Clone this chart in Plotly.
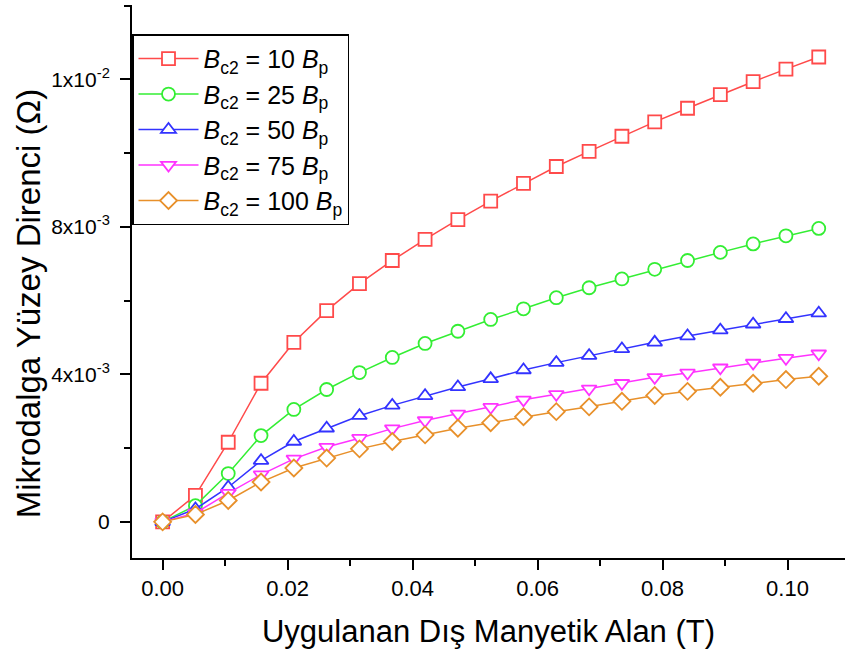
import plotly.graph_objects as go

x_field = [0.0, 0.00525, 0.0105, 0.01575, 0.021, 0.02625, 0.0315, 0.03675, 0.042, 0.04725,
           0.0525, 0.05775, 0.063, 0.06825, 0.0735, 0.07875, 0.084, 0.08925, 0.0945, 0.09975, 0.105]

r_10 = [0.0, 0.72e-3, 2.16e-3, 3.76e-3, 4.87e-3, 5.73e-3, 6.46e-3, 7.09e-3, 7.66e-3, 8.20e-3,
        8.70e-3, 9.18e-3, 9.64e-3, 10.05e-3, 10.46e-3, 10.85e-3, 11.22e-3, 11.59e-3, 11.94e-3, 12.28e-3, 12.61e-3]
r_25 = [0.0, 0.44e-3, 1.31e-3, 2.34e-3, 3.05e-3, 3.59e-3, 4.05e-3, 4.46e-3, 4.84e-3, 5.17e-3,
        5.49e-3, 5.78e-3, 6.08e-3, 6.35e-3, 6.59e-3, 6.85e-3, 7.09e-3, 7.31e-3, 7.54e-3, 7.76e-3, 7.96e-3]
r_50 = [0.0, 0.35e-3, 0.94e-3, 1.66e-3, 2.18e-3, 2.54e-3, 2.88e-3, 3.16e-3, 3.42e-3, 3.66e-3,
        3.88e-3, 4.12e-3, 4.32e-3, 4.51e-3, 4.69e-3, 4.87e-3, 5.04e-3, 5.20e-3, 5.36e-3, 5.51e-3, 5.66e-3]
r_75 = [0.0, 0.24e-3, 0.78e-3, 1.28e-3, 1.71e-3, 2.03e-3, 2.27e-3, 2.53e-3, 2.75e-3, 2.93e-3,
        3.11e-3, 3.31e-3, 3.46e-3, 3.61e-3, 3.76e-3, 3.92e-3, 4.04e-3, 4.18e-3, 4.31e-3, 4.44e-3, 4.56e-3]
r_100 = [0.0, 0.20e-3, 0.58e-3, 1.08e-3, 1.46e-3, 1.73e-3, 1.98e-3, 2.18e-3, 2.36e-3, 2.54e-3,
         2.69e-3, 2.85e-3, 2.99e-3, 3.12e-3, 3.27e-3, 3.43e-3, 3.54e-3, 3.65e-3, 3.76e-3, 3.86e-3, 3.95e-3]

series_names = [
    "<i>B</i><sub>c2</sub> = 10 <i>B</i><sub>p</sub>",
    "<i>B</i><sub>c2</sub> = 25 <i>B</i><sub>p</sub>",
    "<i>B</i><sub>c2</sub> = 50 <i>B</i><sub>p</sub>",
    "<i>B</i><sub>c2</sub> = 75 <i>B</i><sub>p</sub>",
    "<i>B</i><sub>c2</sub> = 100 <i>B</i><sub>p</sub>",
]
series_values = [r_10, r_25, r_50, r_75, r_100]
colors = ["#FF4A4A", "#33EE33", "#3333FF", "#FF33FF", "#E8902A"]
symbols = ["square", "circle", "triangle-up", "triangle-down", "diamond"]

y_tickvals = [0.0, 0.004, 0.008, 0.012]
y_ticktext = ["0", "4x10<sup>-3</sup>", "8x10<sup>-3</sup>", "1x10<sup>-2</sup>"]
x_tickvals = [0.0, 0.02, 0.04, 0.06, 0.08, 0.10]
x_ticktext = ["0.00", "0.02", "0.04", "0.06", "0.08", "0.10"]
x_title = "Uygulanan Dış Manyetik Alan (T)"
y_title = "Mikrodalga Yüzey Direnci (Ω)"

FONT = "Liberation Sans, Arial, sans-serif"

fig = go.Figure()
for name, vals, col, sym in zip(series_names, series_values, colors, symbols):
    fig.add_trace(go.Scatter(
        x=x_field, y=vals, name=name, mode="lines+markers",
        line=dict(color=col, width=1.5),
        marker=dict(symbol=sym, size=13, color="white", line=dict(color=col, width=1.8)),
    ))

fig.add_annotation(
    text=y_title, xref="paper", yref="paper", x=-0.145, y=0.46,
    xanchor="center", yanchor="middle", textangle=-90, showarrow=False,
    font=dict(family=FONT, size=33, color="black"),
)

fig.update_layout(
    width=845, height=657,
    margin=dict(l=132, r=0, t=5, b=99),
    paper_bgcolor="white", plot_bgcolor="white",
    font=dict(family=FONT, color="black"),
    showlegend=True,
    legend=dict(
        x=0.0, y=0.947, xanchor="left", yanchor="top",
        bgcolor="white", bordercolor="black", borderwidth=1.5,
        font=dict(family=FONT, size=25, color="black"),
        itemwidth=60, tracegroupgap=0,
    ),
    xaxis=dict(
        range=[-0.0049, 0.1092],
        tickvals=x_tickvals, ticktext=x_ticktext,
        ticks="outside", ticklen=10, tickwidth=2, tickcolor="black",
        minor=dict(tickvals=[0.01, 0.03, 0.05, 0.07, 0.09], ticks="outside", ticklen=6, tickwidth=2, tickcolor="black"),
        showline=True, linecolor="black", linewidth=2,
        showgrid=False, zeroline=False,
        tickfont=dict(family=FONT, size=22, color="black"),
        title=dict(text=x_title, font=dict(family=FONT, size=31, color="black"), standoff=20),
    ),
    yaxis=dict(
        range=[-0.00098, 0.01402],
        tickvals=y_tickvals, ticktext=y_ticktext,
        ticks="outside", ticklen=10, tickwidth=2, tickcolor="black",
        minor=dict(tickvals=[0.002, 0.006, 0.010, 0.014], ticks="outside", ticklen=6, tickwidth=2, tickcolor="black"),
        showline=True, linecolor="black", linewidth=2,
        showgrid=False, zeroline=False,
        tickfont=dict(family=FONT, size=21, color="black"),
        ticklabelstandoff=6,
    ),
)

fig.write_html("out.html")
